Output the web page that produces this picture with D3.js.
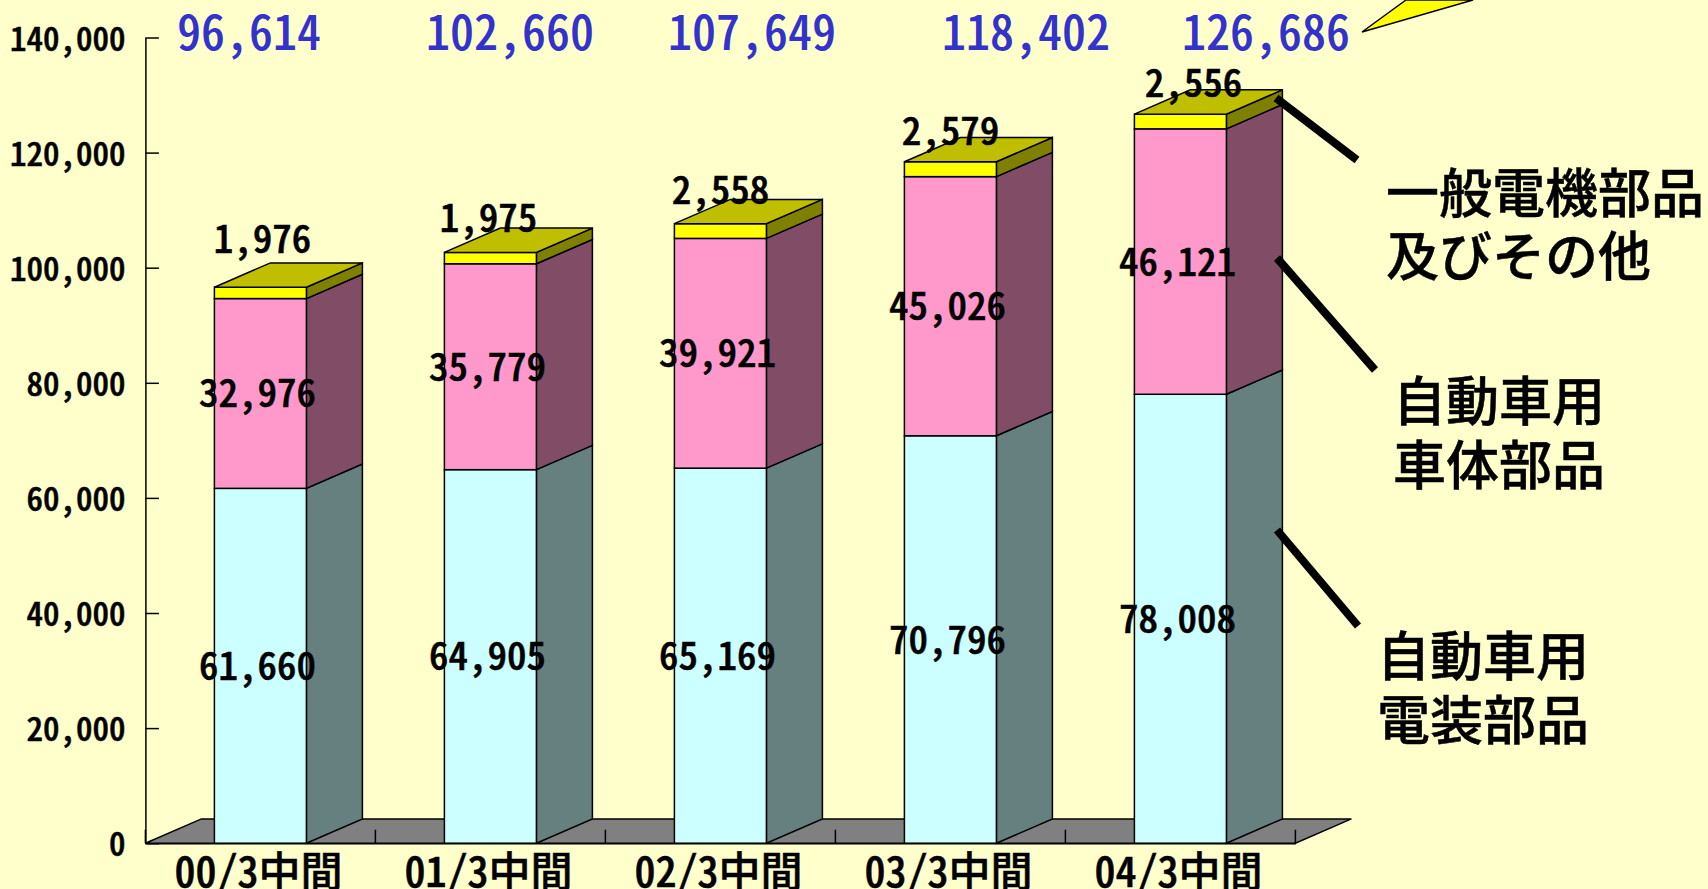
<!DOCTYPE html>
<html>
<head>
<meta charset="utf-8">
<script src="https://cdn.jsdelivr.net/npm/d3@7"></script>
<style>
  html, body { margin: 0; padding: 0; background: #ffffcc; overflow: hidden; }
  text { font-family: "Noto Sans CJK JP", sans-serif; font-feature-settings: "hwid"; fill: #000; }
  .axis path, .axis line { stroke: #000; stroke-width: 1.5; }
</style>
</head>
<body>
<div class="chart"></div>
<script>
// DATA
const categories = ["00/3中間", "01/3中間", "02/3中間", "03/3中間", "04/3中間"];
const denso = [61660, 64905, 65169, 70796, 78008];
const shatai = [32976, 35779, 39921, 45026, 46121];
const ippan = [1976, 1975, 2558, 2579, 2556];
const totals = [96614, 102660, 107649, 118402, 126686];
const yTicks = [0, 20000, 40000, 60000, 80000, 100000, 120000, 140000];
const seriesKeys = ["denso", "shatai", "ippan"];

// hand placed in the original slide, so nudged by hand here too
const totalX = [249, 510, 752, 1026, 1266];
const topDx = [2, -2, 0, 0, 13];
const topDy = [-47, -34, -33, -30, -30];

const colors = {
  denso: { front: "#ccffff", side: "#668080" },
  shatai: { front: "#ff99cc", side: "#804c66" },
  ippan: { front: "#ffff00", side: "#808000", top: "#bfbf00" },
};

let width = 1708,
  height = 889,
  depthX = 56,
  depthY = 24.3;

let svg = d3
  .select(".chart")
  .append("svg")
  .attr("width", width)
  .attr("height", height)
  .style("display", "block");

// AXIS
let x = d3
  .scaleBand()
  .domain(categories)
  .range([145.4, 145.4 + 230 * categories.length])
  .paddingInner(0.6)
  .paddingOuter(0.3);

let y = d3.scaleLinear().domain([0, 140000]).range([843.2, 37.5]);

let table = categories.map((c, i) => ({
  category: c,
  denso: denso[i],
  shatai: shatai[i],
  ippan: ippan[i],
}));
let stacked = d3.stack().keys(seriesKeys)(table);

let line = d3.line();

// FLOOR
let x0 = x.range()[0],
  x1 = x.range()[1];
svg
  .append("path")
  .attr(
    "d",
    line([
      [x0, y(0)],
      [x0 + depthX, y(0) - depthY],
      [x1 + depthX, y(0) - depthY],
      [x1, y(0)],
    ]) + "Z"
  )
  .attr("fill", "#808080")
  .attr("stroke", "#000")
  .attr("stroke-width", 1.5);

let yAxis = d3
  .axisLeft(y)
  .tickValues(yTicks)
  .tickFormat(d3.format(","))
  .tickSizeInner(-13.5)
  .tickSizeOuter(0)
  .tickPadding(20);

svg
  .append("g")
  .attr("class", "y-axis axis")
  .attr("transform", "translate(" + x0 + ",0)")
  .call(yAxis)
  .selectAll("text")
  .attr("dy", "0.38em")
  .attr("font-size", 33)
  .attr("font-weight", 500)
  .attr("stroke", "#000")
  .attr("stroke-width", 0.5);

let xAxis = d3.axisBottom(x).tickSize(0).tickPadding(14);

let xAxisGroup = svg
  .append("g")
  .attr("class", "x-axis axis")
  .attr("transform", "translate(0," + y(0) + ")")
  .call(xAxis);

xAxisGroup
  .selectAll("text")
  .attr("font-size", 42)
  .attr("font-weight", 500)
  .attr("dx", -2)
  .attr("stroke", "#000")
  .attr("stroke-width", 0.5);

// ticks sit between the bars, not under them
xAxisGroup
  .selectAll(".boundary")
  .data(d3.range(categories.length + 1))
  .enter()
  .append("line")
  .attr("class", "boundary")
  .attr("x1", (d) => x0 + d * x.step())
  .attr("x2", (d) => x0 + d * x.step())
  .attr("y1", 0)
  .attr("y2", -13.5);

// BARS
stacked.forEach((layer) => {
  let c = colors[layer.key];
  let g = svg.append("g").attr("class", "layer-" + layer.key);

  g.selectAll(".side")
    .data(layer)
    .enter()
    .append("path")
    .attr("class", "side")
    .attr("d", (d) => {
      let r = x(d.data.category) + x.bandwidth();
      return (
        line([
          [r, y(d[0])],
          [r + depthX, y(d[0]) - depthY],
          [r + depthX, y(d[1]) - depthY],
          [r, y(d[1])],
        ]) + "Z"
      );
    })
    .attr("fill", c.side)
    .attr("stroke", "#000")
    .attr("stroke-width", 1.5);

  g.selectAll(".front")
    .data(layer)
    .enter()
    .append("rect")
    .attr("class", "front")
    .attr("x", (d) => x(d.data.category))
    .attr("y", (d) => y(d[1]))
    .attr("width", x.bandwidth())
    .attr("height", (d) => y(d[0]) - y(d[1]))
    .attr("fill", c.front)
    .attr("stroke", "#000")
    .attr("stroke-width", 1.5);

  if (c.top) {
    g.selectAll(".top")
      .data(layer)
      .enter()
      .append("path")
      .attr("class", "top")
      .attr("d", (d) => {
        let l = x(d.data.category);
        let r = l + x.bandwidth();
        return (
          line([
            [l, y(d[1])],
            [l + depthX, y(d[1]) - depthY],
            [r + depthX, y(d[1]) - depthY],
            [r, y(d[1])],
          ]) + "Z"
        );
      })
      .attr("fill", c.top)
      .attr("stroke", "#000")
      .attr("stroke-width", 1.5);
  }
});

// VALUE LABELS
stacked.slice(0, 2).forEach((layer) => {
  svg
    .append("g")
    .selectAll("text")
    .data(layer)
    .enter()
    .append("text")
    .attr("x", (d) => x(d.data.category) + x.bandwidth() / 2 - 3)
    .attr("y", (d) => y((d[0] + d[1]) / 2))
    .attr("dy", "0.36em")
    .attr("text-anchor", "middle")
    .attr("font-size", 39)
    .attr("font-weight", 500)
    .attr("stroke", "#000")
    .attr("stroke-width", 0.5)
    .text((d) => d3.format(",")(d[1] - d[0]));
});

svg
  .append("g")
  .selectAll("text")
  .data(categories)
  .enter()
  .append("text")
  .attr("x", (d, i) => x(d) + x.bandwidth() / 2 + topDx[i])
  .attr("y", (d, i) => y(totals[i]) + topDy[i])
  .attr("dy", "0.34em")
  .attr("text-anchor", "middle")
  .attr("font-size", 39)
  .attr("font-weight", 500)
  .attr("stroke", "#000")
  .attr("stroke-width", 0.5)
  .text((d, i) => d3.format(",")(ippan[i]));

// TOTALS
svg
  .append("g")
  .selectAll("text")
  .data(totals)
  .enter()
  .append("text")
  .attr("x", (d, i) => totalX[i])
  .attr("y", 33)
  .attr("dy", "0.36em")
  .attr("text-anchor", "middle")
  .attr("font-size", 48)
  .attr("font-weight", 500)
  .style("fill", "#3333cc")
  .text((d) => d3.format(",")(d));

// LEGEND NOTES
const notes = [
  { lines: ["一般電機部品", "及びその他"], x: 1386, y: [193, 256], from: [1276, 98], to: [1357, 160] },
  { lines: ["自動車用", "車体部品"], x: 1393, y: [401, 465], from: [1277, 258], to: [1375, 370] },
  { lines: ["自動車用", "電装部品"], x: 1377, y: [656, 720], from: [1277, 530], to: [1358, 626] },
];

notes.forEach((n) => {
  svg
    .append("line")
    .attr("x1", n.from[0])
    .attr("y1", n.from[1])
    .attr("x2", n.to[0])
    .attr("y2", n.to[1])
    .attr("stroke", "#000")
    .attr("stroke-width", 8);

  n.lines.forEach((t, i) => {
    svg
      .append("text")
      .attr("x", n.x)
      .attr("y", n.y[i])
      .attr("dy", "0.37em")
      .attr("font-size", 53)
      .attr("font-weight", 500)
      .attr("stroke", "#000")
      .attr("stroke-width", 0.5)
      .text(t);
  });
});

// yellow callout running off the top of the frame
svg
  .append("path")
  .attr("d", line([[1362, 32], [1406, 0], [1473, 0]]) + "Z")
  .attr("fill", "#ffff00")
  .attr("stroke", "#000")
  .attr("stroke-width", 1.5);
</script>
</body>
</html>
